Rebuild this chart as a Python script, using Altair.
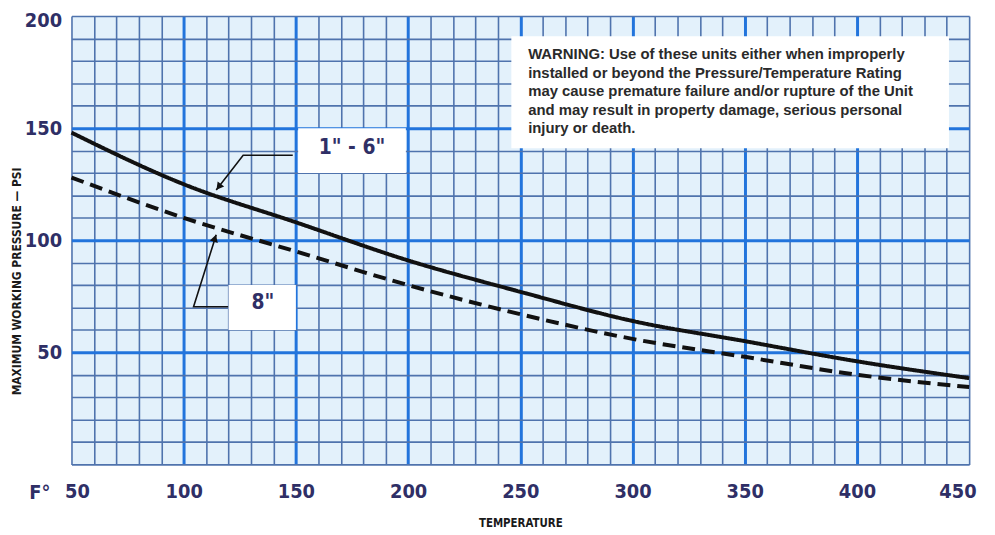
import altair as alt
import pandas as pd

# ---- data ----
temps = [50, 100, 150, 200, 250, 300, 350, 400, 450]
psi_1_6 = [148, 125, 108, 91, 77, 64, 55, 46, 38.5]
psi_8 = [128, 110, 95, 80, 67, 56, 48, 40, 34.5]

x_ticks = list(range(50, 451, 10))
y_ticks = list(range(0, 201, 10))

series_names = ['1" - 6"', '8"']

warning_text = ("WARNING: Use of these units either when improperly\n"
                "installed or beyond the Pressure/Temperature Rating\n"
                "may cause premature failure and/or rupture of the Unit\n"
                "and may result in property damage, serious personal\n"
                "injury or death.")

# annotation boxes (data space): x, x2, y, y2
box_x = [246, 151, 120]
box_x2 = [441, 199, 150]
box_y = [141, 130, 60]
box_y2 = [191, 150, 80]

# leader lines
lead_group = ["a", "a", "a", "b", "b", "b"]
lead_t = [148.6, 126.5, 114.5, 119.8, 104.4, 114.5]
lead_p = [137.9, 137.9, 122.4, 70.3, 70.3, 102.5]

# arrow heads
head_t = [115.6, 113.9]
head_p = [123.8, 100.9]
head_angle = [218, 17]

# label positions
lab_t = [175, 135.3]
lab_p = [141, 72]

NAVY = "#2f2f66"
LABEL_FONT = "DejaVu Sans Condensed"

curves = pd.DataFrame({
    "T": temps * 2,
    "P": psi_1_6 + psi_8,
    "series": [series_names[0]] * len(temps) + [series_names[1]] * len(temps),
})
boxes = pd.DataFrame({"T": box_x, "T2": box_x2, "P": box_y, "P2": box_y2})
leaders = pd.DataFrame({"g": lead_group, "T": lead_t, "P": lead_p,
                        "o": [0, 1, 2, 0, 1, 2]})
heads = pd.DataFrame({"T": head_t, "P": head_p, "a": head_angle})
labels = pd.DataFrame({"T": lab_t, "P": lab_p, "txt": series_names})
warn = pd.DataFrame({"T": [253.5], "P": [183], "txt": [warning_text]})
fdeg = pd.DataFrame({"T": [50], "P": [0], "txt": ["F°"]})

xscale = alt.Scale(domain=[50, 450], nice=False, zero=False)
yscale = alt.Scale(domain=[0, 200], nice=False, zero=False)

major_x = "datum.value % 50 === 0 && datum.value > 50 && datum.value < 450"
major_y = "datum.value % 50 === 0 && datum.value > 0 && datum.value < 200"

x_axis = alt.Axis(
    values=x_ticks,
    labelExpr="datum.value % 50 === 0 ? datum.label : ''",
    grid=True,
    gridColor=alt.ExprRef(expr=f"({major_x}) ? '#2274dc' : '#4f73ad'"),
    gridWidth=alt.ExprRef(expr=f"({major_x}) ? 3 : 1.6"),
    gridOpacity=1,
    ticks=False, tickSize=0, domain=False,
    labelFont=LABEL_FONT, labelFontSize=20, labelFontWeight="bold",
    labelColor=NAVY, labelPadding=17, labelOverlap=False,
    labelFlush=True, labelFlushOffset=7,
    title="TEMPERATURE", titleFont=LABEL_FONT, titleFontSize=11.5,
    titleFontWeight="bold", titleColor="#1a1a1a", titlePadding=17,
)
y_axis = alt.Axis(
    values=y_ticks,
    labelExpr="datum.value % 50 === 0 && datum.value > 0 ? datum.label : ''",
    grid=True,
    gridColor=alt.ExprRef(expr=f"({major_y}) ? '#2274dc' : '#4f73ad'"),
    gridWidth=alt.ExprRef(expr=f"({major_y}) ? 3 : 1.6"),
    gridOpacity=1,
    ticks=False, tickSize=0, domain=False,
    labelFont=LABEL_FONT, labelFontSize=20, labelFontWeight="bold",
    labelColor=NAVY, labelPadding=10, labelOverlap=False,
    labelFlush=True, labelFlushOffset=5,
    title="MAXIMUM WORKING PRESSURE — PSI", titleFont=LABEL_FONT,
    titleFontSize=12, titleFontWeight="bold", titleColor="#1a1a1a",
    titleAngle=270, titleX=-55, titleY=267, titleAlign="center",
    titleBaseline="middle",
)


def X(field):
    return alt.X(field, type="quantitative", scale=xscale, axis=x_axis)


def Y(field):
    return alt.Y(field, type="quantitative", scale=yscale, axis=y_axis)


curve_layer = alt.Chart(curves).mark_line(
    strokeWidth=4, color="#111111", interpolate="monotone"
).encode(
    x=X("T"), y=Y("P"),
    strokeDash=alt.StrokeDash(
        "series:N",
        scale=alt.Scale(domain=series_names, range=[[1, 0], [13, 7]]),
        legend=None,
    ),
)

box_layer = alt.Chart(boxes).mark_rect(color="white").encode(
    x=X("T"), x2="T2:Q", y=Y("P"), y2="P2:Q",
)

leader_layer = alt.Chart(leaders).mark_line(color="#111111", strokeWidth=1.6).encode(
    x=X("T"), y=Y("P"), detail="g:N", order="o:Q",
)

head_layer = alt.Chart(heads).mark_point(
    shape="triangle-up", filled=True, color="#111111", size=70, opacity=1
).encode(
    x=X("T"), y=Y("P"), angle=alt.Angle("a:Q", scale=None),
)

label_layer = alt.Chart(labels).mark_text(
    font=LABEL_FONT, fontSize=21, fontWeight="bold", color=NAVY,
    align="center", baseline="middle",
).encode(
    x=X("T"), y=Y("P"), text="txt:N",
)

warn_layer = alt.Chart(warn).mark_text(
    font="Liberation Sans", fontSize=15, fontWeight="bold", color="#2a2a2a",
    align="left", baseline="middle", lineBreak="\n", lineHeight=18.7,
).encode(
    x=X("T"), y=Y("P"), text="txt:N",
)

fdeg_layer = alt.Chart(fdeg).mark_text(
    font=LABEL_FONT, fontSize=20, fontWeight="bold", color=NAVY,
    align="center", baseline="middle", dx=-32, dy=29,
).encode(
    x=X("T"), y=Y("P"), text="txt:N",
)

chart = alt.layer(
    curve_layer, box_layer, leader_layer, head_layer, label_layer,
    warn_layer, fdeg_layer,
).properties(
    width=905, height=452,
    autosize=alt.AutoSizeParams(type="none"),
    padding={"left": 64, "top": 6, "right": 18, "bottom": 68},
    background="white",
).configure_view(
    fill="#e3f1fb", stroke="transparent",
)

chart.save("out.html", embed_options={"renderer": "svg", "actions": False})
